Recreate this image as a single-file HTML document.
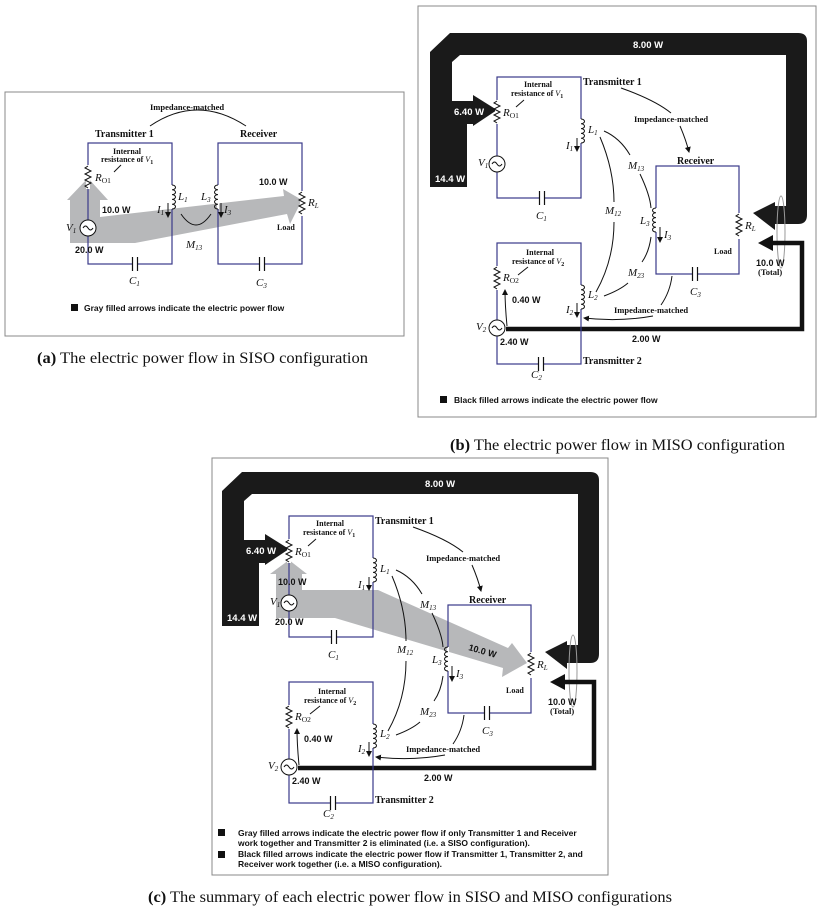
<!DOCTYPE html>
<html><head><meta charset="utf-8"><style>
html,body{margin:0;padding:0;background:#fff;}
svg{display:block;}
.t{font-family:"Liberation Serif",serif;font-weight:bold;font-size:10px;fill:#111;}
.s{font-family:"Liberation Serif",serif;font-weight:bold;font-size:8px;fill:#111;}
.m{font-family:"Liberation Serif",serif;font-style:italic;font-size:11px;fill:#111;}
.w{font-family:"Liberation Sans",sans-serif;font-weight:bold;font-size:9px;fill:#111;}
.ww{font-family:"Liberation Sans",sans-serif;font-weight:bold;font-size:9.5px;fill:#fff;}
.lg{font-family:"Liberation Sans",sans-serif;font-weight:bold;font-size:8.5px;fill:#111;}
.cap{font-family:"Liberation Serif",serif;font-size:16px;fill:#111;}
.bx{fill:none;stroke:#3a3a8a;stroke-width:1.2;}
.k{fill:none;stroke:#111;stroke-width:1;}
</style></head><body>
<svg width="822" height="912" viewBox="0 0 822 912" xmlns="http://www.w3.org/2000/svg">
<defs>
<marker id="ah" markerWidth="6" markerHeight="6" refX="5" refY="3" orient="auto" markerUnits="userSpaceOnUse"><path d="M0,0 L6,3 L0,6 Z" fill="#111"/></marker>
<g id="res"><path d="M0,0 l-3,2 l6,3 l-6,3 l6,3 l-6,3 l6,3 l-6,3 l3,2" fill="none" stroke="#111" stroke-width="1"/></g>
<g id="coilR"><rect x="-1" y="0" width="2" height="24" fill="#fff"/><path d="M0,0 a3.5,2.4 0 1 1 0,4.8 a3.5,2.4 0 1 1 0,4.8 a3.5,2.4 0 1 1 0,4.8 a3.5,2.4 0 1 1 0,4.8 a3.5,2.4 0 1 1 0,4.8" fill="none" stroke="#111" stroke-width="1"/></g>
<g id="coilL"><rect x="-1" y="0" width="2" height="24" fill="#fff"/><path d="M0,0 a3.5,2.4 0 1 0 0,4.8 a3.5,2.4 0 1 0 0,4.8 a3.5,2.4 0 1 0 0,4.8 a3.5,2.4 0 1 0 0,4.8 a3.5,2.4 0 1 0 0,4.8" fill="none" stroke="#111" stroke-width="1"/></g>
<g id="cap"><rect x="-3" y="-2" width="6" height="4" fill="#fff"/><path d="M-2.5,-7 v14 M2.5,-7 v14" stroke="#111" stroke-width="1.2"/></g>
<g id="src"><circle cx="0" cy="0" r="8" fill="#fff" stroke="#111" stroke-width="1"/><path d="M-5,0 q2.5,-4 5,0 t5,0" fill="none" stroke="#111" stroke-width="1"/></g>

<g id="miso">
 <path d="M430,187 L430,52 L450,33 L798,33 Q807,33 807,41 L807,215 Q807,224 798,224 L775,224 L775,230 L753,213 L775,202 L775,206 L786,206 L786,55 L460,55 L452,62 L452,101 L473,101 L473,95 L497,110 L473,126 L473,124 L467,124 L467,187 Z" fill="#1a1a1a"/>
 <text class="ww" x="633" y="48">8.00 W</text>
 <text class="ww" x="435" y="182">14.4 W</text>
 <text class="ww" x="454" y="115">6.40 W</text>
 <ellipse cx="781" cy="232" rx="4" ry="36" fill="none" stroke="#999" stroke-width="1"/>
 <path d="M506,329 L802,329 L802,243 L770,243" fill="none" stroke="#111" stroke-width="4.5"/>
 <path d="M758,243 L773,235 L773,251 Z" fill="#111"/>
 <path d="M507,326 Q505,305 505,290" class="k" marker-end="url(#ah)"/>
 <text class="w" x="512" y="303">0.40 W</text>
 <text class="w" x="500" y="345">2.40 W</text>
 <text class="w" x="632" y="342">2.00 W</text>
 <text class="w" x="756" y="266">10.0 W</text>
 <text class="s" x="758" y="275" style="font-size:8.5px">(Total)</text>

 <rect class="bx" x="497" y="77" width="84" height="121"/>
 <rect x="495" y="100" width="4" height="24" fill="#fff"/>
 <use href="#res" x="497" y="101"/>
 <use href="#src" x="497" y="164"/>
 <use href="#coilR" x="581" y="119"/>
 <use href="#cap" x="542" y="198"/>
 <text class="s" x="524" y="87">Internal</text>
 <text class="s" x="511" y="96">resistance of <tspan font-style="italic" font-weight="normal">V</tspan><tspan font-size="6" dy="2">1</tspan></text>
 <path d="M524,100 L516,107" class="k"/>
 <text class="m" x="503" y="116">R<tspan font-size="7.5" font-style="normal" dy="2">O1</tspan></text>
 <text class="m" x="588" y="133">L<tspan font-size="7" dy="2">1</tspan></text>
 <text class="m" x="566" y="149">I<tspan font-size="7" dy="2">1</tspan></text>
 <path d="M577,138 V151" class="k" marker-end="url(#ah)"/>
 <text class="m" x="478" y="166">V<tspan font-size="7" dy="2">1</tspan></text>
 <text class="m" x="536" y="219">C<tspan font-size="7" dy="2">1</tspan></text>
 <text class="t" x="583" y="85">Transmitter 1</text>

 <rect class="bx" x="656" y="166" width="83" height="108"/>
 <use href="#coilL" x="656" y="208"/>
 <rect x="737" y="213" width="4" height="26" fill="#fff"/>
 <use href="#res" x="739" y="214"/>
 <use href="#cap" x="695" y="274"/>
 <text class="t" x="677" y="164">Receiver</text>
 <text class="m" x="640" y="224">L<tspan font-size="7" dy="2">3</tspan></text>
 <path d="M660,227 V242" class="k" marker-end="url(#ah)"/>
 <text class="m" x="664" y="238">I<tspan font-size="7" dy="2">3</tspan></text>
 <text class="m" x="745" y="229">R<tspan font-size="7" dy="2">L</tspan></text>
 <text class="s" x="714" y="254">Load</text>
 <text class="m" x="690" y="295">C<tspan font-size="7" dy="2">3</tspan></text>

 <rect class="bx" x="497" y="243" width="84" height="121"/>
 <rect x="495" y="266" width="4" height="24" fill="#fff"/>
 <use href="#res" x="497" y="267"/>
 <use href="#src" x="497" y="328"/>
 <use href="#coilR" x="581" y="285"/>
 <use href="#cap" x="541" y="364"/>
 <text class="s" x="526" y="255">Internal</text>
 <text class="s" x="512" y="264">resistance of <tspan font-style="italic" font-weight="normal">V</tspan><tspan font-size="6" dy="2">2</tspan></text>
 <path d="M528,267 L518,275" class="k"/>
 <text class="m" x="503" y="281">R<tspan font-size="7.5" font-style="normal" dy="2">O2</tspan></text>
 <text class="m" x="588" y="298">L<tspan font-size="7" dy="2">2</tspan></text>
 <text class="m" x="566" y="313">I<tspan font-size="7" dy="2">2</tspan></text>
 <path d="M577,303 V317" class="k" marker-end="url(#ah)"/>
 <text class="m" x="476" y="330">V<tspan font-size="7" dy="2">2</tspan></text>
 <text class="m" x="531" y="378">C<tspan font-size="7" dy="2">2</tspan></text>
 <text class="t" x="583" y="364">Transmitter 2</text>

 <text class="s" x="634" y="122" style="font-size:8.5px">Impedance-matched</text>
 <path d="M621,88 Q655,100 671,113" class="k"/>
 <path d="M680,126 Q686,140 689,152" class="k" marker-end="url(#ah)"/>
 <text class="m" x="628" y="169">M<tspan font-size="7" dy="2">13</tspan></text>
 <path d="M604,131 Q620,138 630,155" class="k"/>
 <path d="M640,174 Q650,195 651,208" class="k"/>
 <text class="m" x="605" y="214">M<tspan font-size="7" dy="2">12</tspan></text>
 <path d="M600,137 Q614,170 614,202" class="k"/>
 <path d="M614,222 Q614,260 596,292" class="k"/>
 <text class="m" x="628" y="276">M<tspan font-size="7" dy="2">23</tspan></text>
 <path d="M651,237 Q649,252 642,262" class="k"/>
 <path d="M604,296 Q620,290 628,283" class="k"/>
 <text class="s" x="614" y="313" style="font-size:8.5px">Impedance-matched</text>
 <path d="M672,276 Q670,292 661,305" class="k"/>
 <path d="M653,316 Q620,322 584,318" class="k" marker-end="url(#ah)"/>
</g>
</defs>

<rect x="5" y="92" width="399" height="244" fill="#fff" stroke="#888" stroke-width="1"/>
<path d="M70,243 L70,200 L67,200 L88,178 L108,200 L100,200 L100,217 L284,196 L283,189 L302,200 L290,224 L287,214 L135,243 Z" fill="#b7b8ba"/>
<rect class="bx" x="88" y="143" width="84" height="121"/>
<rect class="bx" x="218" y="143" width="84" height="121"/>
<rect x="86" y="165" width="4" height="24" fill="#fff"/>
<use href="#res" x="88" y="166"/>
<use href="#src" x="88" y="228"/>
<use href="#coilR" x="172" y="185"/>
<use href="#coilL" x="218" y="185"/>
<rect x="300" y="191" width="4" height="25" fill="#fff"/>
<use href="#res" x="302" y="192"/>
<use href="#cap" x="135" y="264"/>
<use href="#cap" x="262" y="264"/>
<text class="s" x="150" y="110" style="font-size:8.5px">Impedance-matched</text>
<path d="M150,126 Q197,94 246,126" class="k"/>
<text class="t" x="95" y="137">Transmitter 1</text>
<text class="t" x="240" y="137">Receiver</text>
<text class="s" x="113" y="154">Internal</text>
<text class="s" x="101" y="162">resistance of <tspan font-style="italic" font-weight="normal">V</tspan><tspan font-size="6" dy="2">1</tspan></text>
<path d="M121,165 L114,172" class="k"/>
<text class="m" x="95" y="181">R<tspan font-size="7.5" font-style="normal" dy="2">O1</tspan></text>
<text class="m" x="178" y="200">L<tspan font-size="7" dy="2">1</tspan></text>
<text class="m" x="157" y="213">I<tspan font-size="7" dy="2">1</tspan></text>
<path d="M168,203 V217" class="k" marker-end="url(#ah)"/>
<text class="m" x="201" y="200">L<tspan font-size="7" dy="2">3</tspan></text>
<path d="M221,203 V217" class="k" marker-end="url(#ah)"/>
<text class="m" x="224" y="213">I<tspan font-size="7" dy="2">3</tspan></text>
<path d="M181,214 Q196,236 211,214" class="k"/>
<text class="m" x="186" y="248">M<tspan font-size="7" dy="2">13</tspan></text>
<text class="m" x="66" y="231">V<tspan font-size="7" dy="2">1</tspan></text>
<text class="m" x="308" y="206">R<tspan font-size="7" dy="2">L</tspan></text>
<text class="w" x="102" y="213">10.0 W</text>
<text class="w" x="75" y="253">20.0 W</text>
<text class="w" x="259" y="185">10.0 W</text>
<text class="s" x="277" y="230">Load</text>
<text class="m" x="129" y="284">C<tspan font-size="7" dy="2">1</tspan></text>
<text class="m" x="256" y="286">C<tspan font-size="7" dy="2">3</tspan></text>
<rect x="71" y="304" width="7" height="7" fill="#111"/>
<text class="lg" x="84" y="311">Gray filled arrows indicate the electric power flow</text>
<text class="cap" x="37" y="363" textLength="331" lengthAdjust="spacingAndGlyphs"><tspan font-weight="bold">(a)</tspan> The electric power flow in SISO configuration</text>

<rect x="418" y="6" width="398" height="411" fill="#fff" stroke="#888" stroke-width="1"/>
<use href="#miso"/>
<rect x="440" y="396" width="7" height="7" fill="#111"/>
<text class="lg" x="454" y="403">Black filled arrows indicate the electric power flow</text>
<text class="cap" x="450" y="450" textLength="335" lengthAdjust="spacingAndGlyphs"><tspan font-weight="bold">(b)</tspan> The electric power flow in MISO configuration</text>

<rect x="212" y="458" width="396" height="417" fill="#fff" stroke="#888" stroke-width="1"/>
<path d="M276,618 L276,574 L270,574 L289,560 L307,574 L302,574 L302,590 L378,590 L508,648 L512,643 L527,663 L502,677 L503,668 L335,618 Z" fill="#b7b8ba"/>
<g transform="translate(-208,439)"><use href="#miso"/></g>
<text class="w" x="278" y="585">10.0 W</text>
<text class="w" x="275" y="625">20.0 W</text>
<text class="w" x="468" y="650" transform="rotate(16 468 650)">10.0 W</text>
<rect x="218" y="829" width="7" height="7" fill="#111"/>
<text class="lg" x="238" y="836">Gray filled arrows indicate the electric power flow if only Transmitter 1 and Receiver</text>
<text class="lg" x="238" y="846">work together and Transmitter 2 is eliminated (i.e. a SISO configuration).</text>
<rect x="218" y="851" width="7" height="7" fill="#111"/>
<text class="lg" x="238" y="857">Black filled arrows indicate the electric power flow if Transmitter 1,  Transmitter 2, and</text>
<text class="lg" x="238" y="867">Receiver work together (i.e. a MISO configuration).</text>
<text class="cap" x="148" y="902" textLength="524" lengthAdjust="spacingAndGlyphs"><tspan font-weight="bold">(c)</tspan> The summary of each electric power flow in SISO and MISO configurations</text>
</svg>
</body></html>
